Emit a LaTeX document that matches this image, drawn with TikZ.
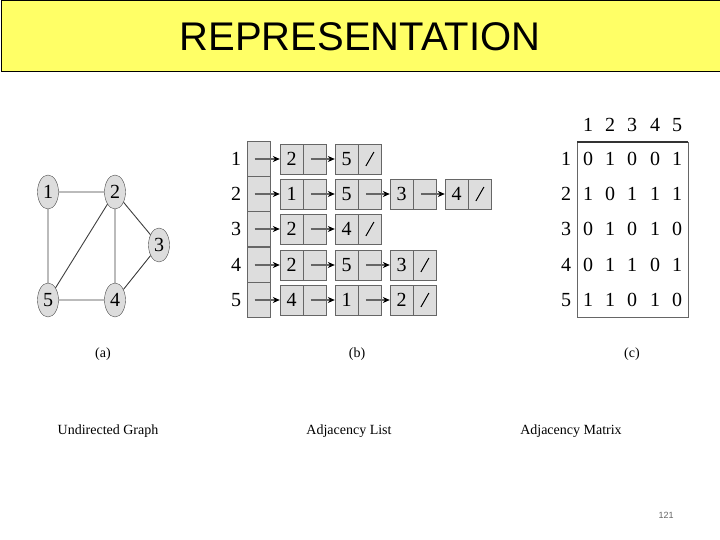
\documentclass[tikz,border=0pt]{standalone}
\usepackage{fontspec}
\setmainfont{Liberation Serif}
\newfontfamily\arial{Liberation Sans}
\usetikzlibrary{shapes.geometric,arrows.meta}
\definecolor{cellgray}{RGB}{221,221,221}
\definecolor{titleyellow}{RGB}{255,255,102}
\tikzset{
  gnode/.style={ellipse,draw=black!70,fill=cellgray,minimum width=21pt,minimum height=34pt,inner sep=0pt,font=\fontsize{20}{20}\selectfont},
  gedge/.style={draw=black!75,line width=0.9pt},
  half/.style={draw=black!60,fill=cellgray,minimum width=23pt,minimum height=30pt,inner sep=0pt,font=\fontsize{20}{20}\selectfont},
  idx/.style={draw=black!60,fill=cellgray,minimum width=23pt,minimum height=35pt,inner sep=0pt},
  larr/.style={draw=black!60,line width=1.2pt,-{Stealth[length=7pt,width=6pt,color=black]}},
  digit/.style={font=\fontsize{20}{20}\selectfont},
  captext/.style={font=\fontsize{14}{14}\selectfont},
  sublabel/.style={font=\fontsize{14}{14}\selectfont},
  nilslash/.style={draw=black,line width=1pt}
}
\begin{document}
\begin{tikzpicture}[x=1pt,y=-1pt]
\useasboundingbox (0,0) rectangle (720,540);
\fill[white] (0,0) rectangle (720,540);
\node[draw=black,line width=0.8pt,fill=titleyellow,minimum width=719pt,minimum height=71pt,anchor=north west] (title) at (0.5,0.5) {};
\node[font=\arial\fontsize{40}{40}\selectfont] (titletext) at (360,37) {REPRESENTATION};
% graph
\node[gnode] (g1) at (48,192) {1};
\node[gnode] (g2) at (115,192) {2};
\node[gnode] (g3) at (159,245) {3};
\node[gnode] (g4) at (115,300) {4};
\node[gnode] (g5) at (48,300) {5};
\draw[gedge] (g1)--(g2) (g1)--(g5) (g2)--(g5) (g2)--(g4) (g2)--(g3) (g3)--(g4) (g5)--(g4);
\node[sublabel] (la) at (103,354) {(a)};
% adjacency list
\foreach \r/\y in {1/159,2/194,3/229,4/265,5/300}{
  \node[digit] (rl\r) at (236,\y) {\r};
  \node[idx] (ix\r) at (258.5,\y) {};
}
\def\xs{{291.5,346.5,401.5,456.5}}
\foreach \r/\y/\vals in {1/159/{2,5},2/194/{1,5,3,4},3/229/{2,4},4/265/{2,5,3},5/300/{4,1,2}}{
  \foreach \v [count=\c] in \vals {
    \pgfmathsetmacro{\xx}{\xs[\c-1]}
    \node[half] (v\r\c) at (\xx,\y) {\v};
    \node[half,anchor=west] (p\r\c) at (v\r\c.east) {};
    \xdef\lastc{\c}
  }
  \draw[nilslash] (p\r\lastc.center)++(-4,7) -- ++(8,-14);
  \draw[larr] (ix\r.center)++(-4,0) -- (v\r1.west);
  \foreach \c in {2,...,\lastc}{
    \pgfmathtruncatemacro{\pc}{\c-1}
    \draw[larr] (p\r\pc.center)++(-4,0) -- (v\r\c.west);
  }
}
\node[sublabel] (lb) at (357,354) {(b)};
% matrix
\draw[black!60,line width=0.8pt] (577,142) rectangle (688,317);
\draw[black!80,line width=1.5pt] (577,142) -- (688,142);
\foreach \c/\x in {1/588,2/610,3/632,4/655,5/677}{\node[digit] (h\c) at (\x,125) {\c};}
\foreach \r/\y/\vals in {1/159/{0,1,0,0,1},2/194/{1,0,1,1,1},3/229/{0,1,0,1,0},4/265/{0,1,1,0,1},5/300/{1,1,0,1,0}}{
  \node[digit] (mr\r) at (566,\y) {\r};
  \foreach \v [count=\c] in \vals {
    \pgfmathsetmacro{\xx}{{588,610,632,655,677}[\c-1]}
    \node[digit] (m\r\c) at (\xx,\y) {\v};
  }
}
\node[sublabel] (lc) at (632,354) {(c)};
% captions
\node[captext] (c1) at (108,431) {Undirected Graph};
\node[captext] (c2) at (349,431) {Adjacency List};
\node[captext] (c3) at (571,431) {Adjacency Matrix};
\node[font=\arial\fontsize{9}{9}\selectfont,text=black!60] (pn) at (666,515) {121};
\end{tikzpicture}
\end{document}
